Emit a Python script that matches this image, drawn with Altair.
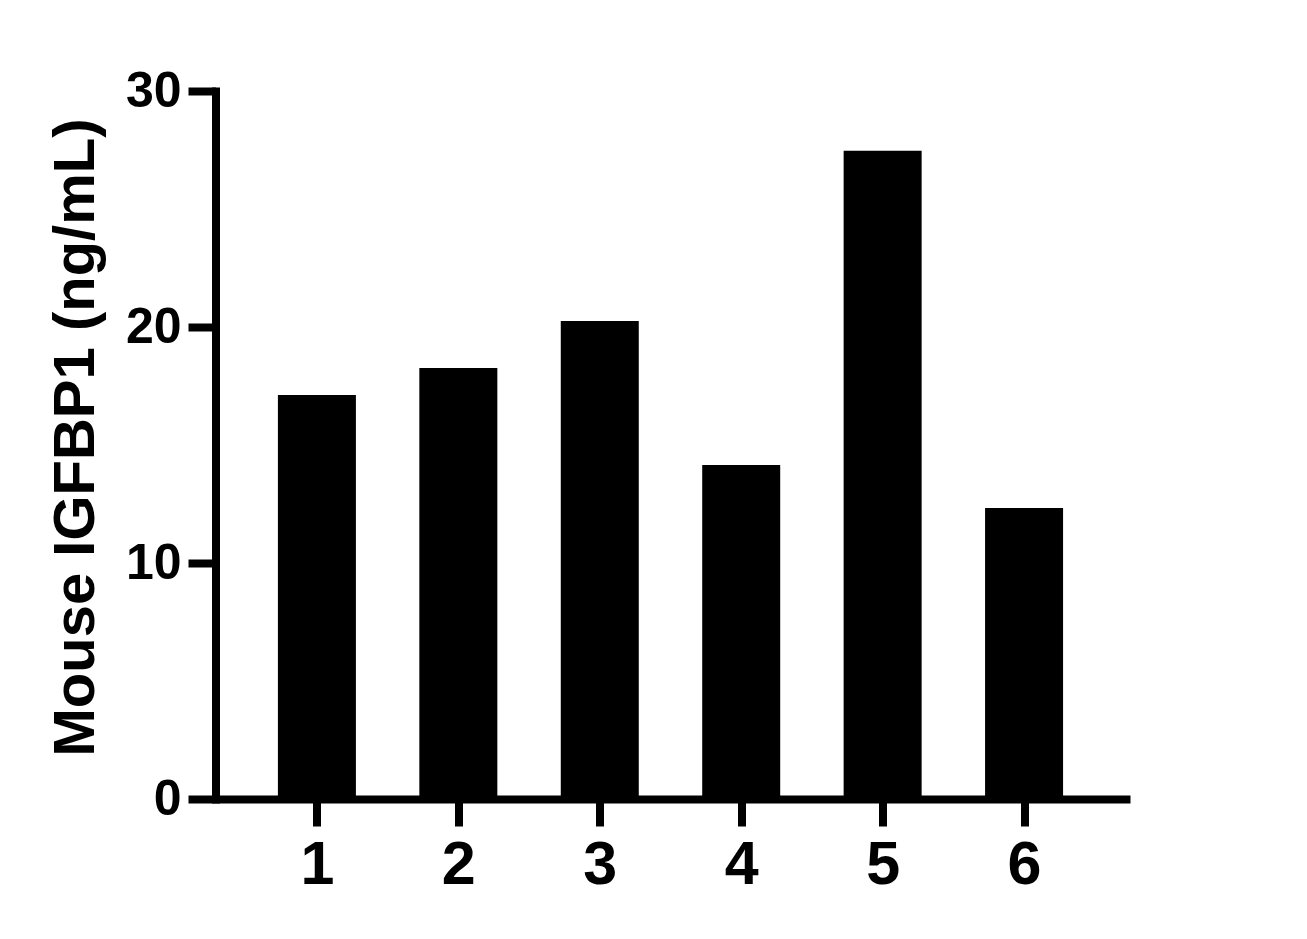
import altair as alt
import pandas as pd

categories = [1, 2, 3, 4, 5, 6]
values = [17.12, 18.26, 20.25, 14.15, 27.47, 12.33]
y_ticks = [0, 10, 20, 30]
y_title = "Mouse IGFBP1 (ng/mL)"

df = pd.DataFrame({"sample": categories, "conc": values})

FONT = "Liberation Sans"

chart = alt.Chart(df).mark_bar(size=78, color="black").encode(
    x=alt.X(
        "sample:Q",
        scale=alt.Scale(domain=[0.283, 6.749], nice=False, zero=False, padding=0),
        axis=alt.Axis(
            values=categories, title=None, format="d", grid=False,
            labelFont=FONT, labelFontSize=61, labelFontWeight="bold", labelColor="black",
            labelPadding=9, labelFlush=False,
            tickSize=27, tickWidth=8, tickColor="black",
            domainWidth=8, domainColor="black",
        ),
    ),
    y=alt.Y(
        "conc:Q",
        scale=alt.Scale(domain=[0, 30], nice=False, padding=0),
        axis=alt.Axis(
            values=y_ticks, title=y_title, grid=False,
            labelFont=FONT, labelFontSize=50, labelFontWeight="bold", labelColor="black",
            labelPadding=7, labelFlush=False,
            tickSize=27.5, tickWidth=8, tickColor="black",
            domainWidth=8, domainColor="black", domainCap="square",
            titleFont=FONT, titleFontSize=58, titleFontWeight="bold", titleColor="black",
            titleAngle=270, titleBaseline="alphabetic", titleAlign="center",
            titleX=-122, titleY=346,
        ),
    ),
).properties(
    width=914.5,
    height=708,
    padding={"left": 207.5, "top": 83, "right": 20, "bottom": 110},
    autosize=alt.AutoSizeParams(type="none"),
    background="white",
).configure_view(stroke=None)

chart.save("out.html", embed_options={"renderer": "svg", "actions": False})
